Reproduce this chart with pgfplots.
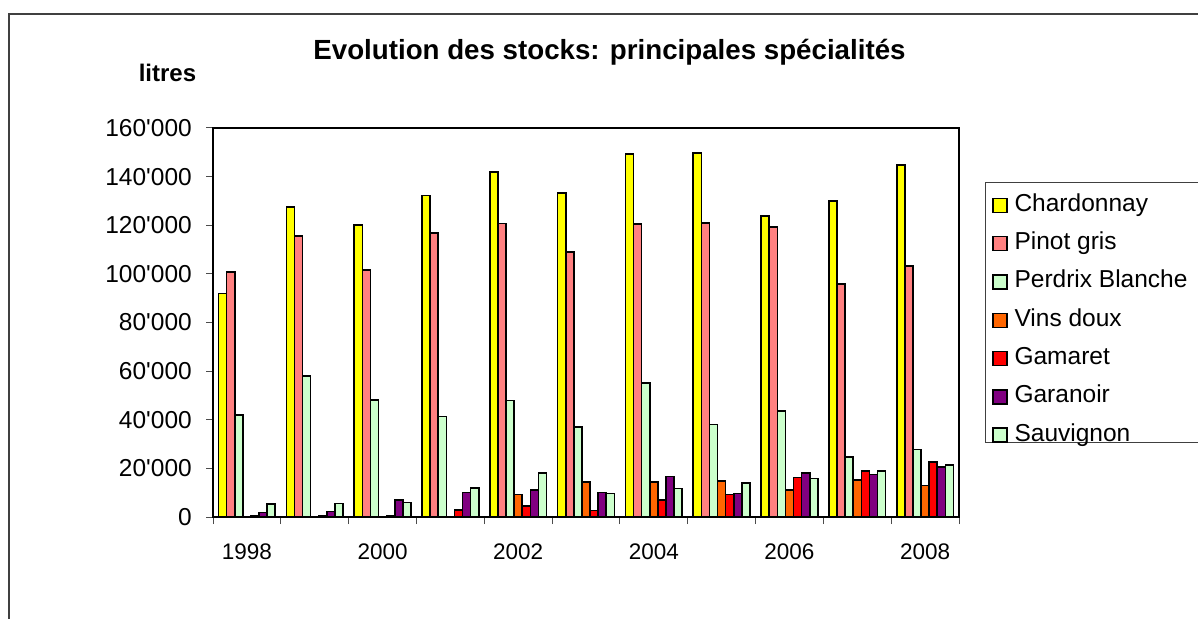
\documentclass[border=0pt]{standalone}
\usepackage{pgfplots}
\usepackage{pgfplotstable}
\pgfplotsset{compat=1.18}
\usepackage{fontspec}
\setmainfont{Liberation Sans}[Ligatures=TeXOff]
\definecolor{chard}{HTML}{FFFF00}
\definecolor{pinot}{HTML}{FF8080}
\definecolor{perdrix}{HTML}{CCFFCC}
\definecolor{vins}{HTML}{FF6600}
\definecolor{gamaret}{HTML}{FF0000}
\definecolor{garanoir}{HTML}{800080}
\definecolor{sauv}{HTML}{CCFFCC}
\newcommand{\q}{\char"0027\relax}
\pgfplotstableread{
x Ch Pg Pb Vd Ga Gn Sa
0 92000 100700 42000 0 400 1800 5300
1 127600 115600 58000 0 400 2200 5600
2 120000 101500 48100 0 400 7000 6000
3 132300 116700 41300 0 2900 10150 11900
4 142000 120650 47850 9300 4500 11100 18000
5 133300 109100 36900 14500 2600 10000 9700
6 149400 120400 55200 14500 7000 16600 11650
7 149700 120900 38000 14800 9200 9700 14000
8 123900 119300 43500 11100 16200 18000 15900
9 130000 95800 24700 15200 18900 17500 18900
10 144800 103200 27800 12900 22600 20600 21500
}\stocks
\begin{document}
\begin{tikzpicture}[x=1pt,y=1pt]
\path[use as bounding box] (0,0) rectangle (1198,618);
\draw[line width=1.5pt, black!75] (9,-5) -- (9,604) -- (1210,604);
\node[font=\fontsize{27.7}{30}\selectfont\bfseries, anchor=base] at (609.5,558) {Evolution des stocks: principales spécialités};
\node[font=\fontsize{24}{28}\selectfont\bfseries, anchor=base] at (167.5,536.3) {litres};
\draw[line width=1pt, black!75, fill=white] (985,175) rectangle (1210,435);
\begin{axis}[
  at={(213pt,101pt)}, anchor=south west,
  width=746pt, height=389pt, scale only axis,
  ybar=0pt, bar width=8.1pt,
  xmin=-0.5, xmax=10.5, ymin=0, ymax=160000,
  ytick={0,20000,40000,60000,80000,100000,120000,140000,160000},
  yticklabels={0,20\q000,40\q000,60\q000,80\q000,100\q000,120\q000,140\q000,160\q000},
  scaled y ticks=false,
  xtick={-0.5,0.5,...,10.5}, xticklabels={},
  extra x ticks={0,2,4,6,8,10},
  extra x tick labels={1998,2000,2002,2004,2006,2008},
  extra x tick style={major tick length=0pt},
  tick align=outside, tick pos=left,
  major tick length=7pt,
  tick style={line width=1pt, black!70},
  axis line style={line width=1.5pt, black},
  yticklabel style={font=\fontsize{24.5}{28}\selectfont, anchor=east, inner sep=0pt, xshift=-14pt},
  xticklabel style={font=\fontsize{22.5}{26}\selectfont, anchor=base, inner sep=0pt, yshift=-42.3pt},
  legend image code/.code={\draw[#1, line width=1.5pt] (0pt,-1pt) rectangle (14pt,13pt);},
  legend cell align=left,
  legend style={at={(1.040,0.8406)}, anchor=north west, draw=none, fill=none,
    font=\fontsize{24.5}{27}\selectfont, row sep=0pt, column sep=7pt,
    nodes={inner sep=0pt, text height=19.15pt, text depth=19.15pt}},
  every axis plot/.append style={draw=black, line width=1.6pt},
]
\addplot[fill=chard] table[x=x,y=Ch]{\stocks};
\addplot[fill=pinot] table[x=x,y=Pg]{\stocks};
\addplot[fill=perdrix] table[x=x,y=Pb]{\stocks};
\addplot[fill=vins] table[x=x,y=Vd]{\stocks};
\addplot[fill=gamaret] table[x=x,y=Ga]{\stocks};
\addplot[fill=garanoir] table[x=x,y=Gn]{\stocks};
\addplot[fill=sauv] table[x=x,y=Sa]{\stocks};
\legend{Chardonnay,Pinot gris,Perdrix Blanche,Vins doux,Gamaret,Garanoir,Sauvignon}
\end{axis}
\end{tikzpicture}
\end{document}
